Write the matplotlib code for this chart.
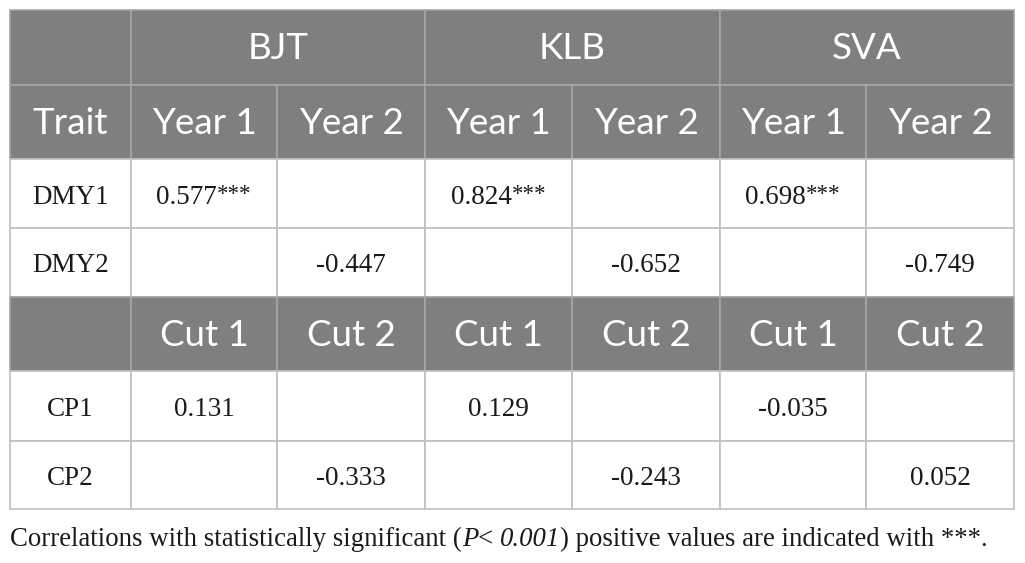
import matplotlib
matplotlib.use('Agg')
import matplotlib.pyplot as plt
from matplotlib.patches import Rectangle

# table content
groups = ['BJT', 'KLB', 'SVA']
year_labels = ['Year 1', 'Year 2']
cut_labels = ['Cut 1', 'Cut 2']
dmy_traits = ['DMY1', 'DMY2']
cp_traits = ['CP1', 'CP2']
# one value per group; trait 1 sits under column 1, trait 2 under column 2
dmy1 = ['0.577', '0.824', '0.698']
dmy1_sig = ['***', '***', '***']
dmy2 = ['-0.447', '-0.652', '-0.749']
cp1 = ['0.131', '0.129', '-0.035']
cp2 = ['-0.333', '-0.243', '0.052']
# caption pieces: (text, italic)
caption = [('Correlations with statistically significant (', False),
           ('P', True), ('< ', False), ('0.001', True),
           (') positive values are indicated with ***.', False)]

W, H = 1025, 563
fig = plt.figure(figsize=(W / 100, H / 100), dpi=100)
ax = fig.add_axes([0, 0, 1, 1])
ax.set_xlim(0, W)
ax.set_ylim(H, 0)
ax.axis('off')
renderer = fig.canvas.get_renderer()

cols = [10, 131, 277, 425, 572, 720, 866, 1014]
rows = [10, 85, 159, 228, 297, 371, 441, 509]
head_bg = '#7f7f7f'
head_line = '#a6a6a6'
body_line = '#bfbfbf'
ink = '#1a1a1a'
sans = 'Lato'
serif = 'Liberation Serif'
body_size = 19.5


def width_of(t):
    return t.get_window_extent(renderer).width


def cell(x0, x1, y0, y1, text, header, sig=''):
    fc = head_bg if header else 'white'
    ec = head_line if header else body_line
    ax.add_patch(Rectangle((x0, y0), x1 - x0, y1 - y0, facecolor=fc,
                           edgecolor=ec, linewidth=1.2))
    if not text:
        return
    xc, yc = (x0 + x1) / 2, (y0 + y1) / 2
    if header:
        ax.text(xc, yc + 1, text, color='white', family=sans, fontsize=26.5,
                ha='center', va='center')
        return
    base = yc + 10
    t = ax.text(xc, base, text, color=ink, family=serif, fontsize=body_size,
                ha='left', va='baseline')
    if sig:
        # small raised asterisks right after the number
        s = ax.text(0, base - 3, sig, color=ink, family=serif,
                    fontsize=body_size * 0.85, ha='left', va='baseline')
        wt, ws = width_of(t), width_of(s)
        left = xc - (wt + ws) / 2
        t.set_x(left)
        s.set_x(left + wt)
    else:
        t.set_ha('center')


# first header row
cell(cols[0], cols[1], rows[0], rows[1], '', True)
for g, name in enumerate(groups):
    cell(cols[1 + 2 * g], cols[3 + 2 * g], rows[0], rows[1], name, True)

blocks = [
    (1, 'Trait', year_labels, [(dmy_traits[0], dmy1, dmy1_sig, 0),
                               (dmy_traits[1], dmy2, None, 1)]),
    (4, '', cut_labels, [(cp_traits[0], cp1, None, 0),
                         (cp_traits[1], cp2, None, 1)]),
]
for r, corner, labels, data in blocks:
    cell(cols[0], cols[1], rows[r], rows[r + 1], corner, True)
    for g in range(len(groups)):
        for k in range(2):
            c = 1 + 2 * g + k
            cell(cols[c], cols[c + 1], rows[r], rows[r + 1], labels[k], True)
    for i, (trait, vals, sigs, pos) in enumerate(data):
        rr = r + 1 + i
        cell(cols[0], cols[1], rows[rr], rows[rr + 1], trait, False)
        for g in range(len(groups)):
            for k in range(2):
                c = 1 + 2 * g + k
                txt = vals[g] if k == pos else ''
                sg = sigs[g] if (sigs and k == pos) else ''
                cell(cols[c], cols[c + 1], rows[rr], rows[rr + 1], txt, False, sg)

# caption, drawn piece by piece so the italic parts line up
x = 10
for piece, italic in caption:
    t = ax.text(x, 546, piece, family=serif, fontsize=19.3, color=ink,
                style='italic' if italic else 'normal', ha='left', va='baseline')
    x += width_of(t)

fig.savefig('out.png', dpi=100)
